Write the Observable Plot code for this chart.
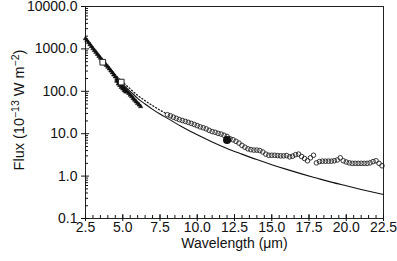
<!DOCTYPE html>
<html><head><meta charset="utf-8">
<script src="https://cdn.jsdelivr.net/npm/d3@7"></script>
<script src="https://cdn.jsdelivr.net/npm/@observablehq/plot@0.6"></script>
<style>body{margin:0;background:#fff}svg{display:block}</style>
</head><body><div id="chart"></div>
<script>
const FONT = "'Liberation Sans', Arial, Helvetica, sans-serif";

// Tick labels
const xMajorTicks = [2.5, 5, 7.5, 10, 12.5, 15, 17.5, 20, 22.5];
const xMinorTicks = d3.range(2.5, 22.51, 0.5);
const yMajorTicks = [0.1, 1, 10, 100, 1000, 10000];
const yMinorTicks = [0.1, 1, 10, 100, 1000].flatMap(d => [2,3,4,5,6,7,8,9].map(m => +(d * m).toPrecision(3)));

// Model curve (solid)
const modelWl   = [2.5, 3, 3.5, 4, 4.5, 5, 5.5, 6, 6.5, 7, 7.5, 8, 9, 10, 11, 12, 13, 14, 15, 16, 17, 18, 19, 20, 21, 22.5];
const modelFlux = [1750, 1020, 610, 380, 230, 148, 100, 68, 50, 37.5, 29, 23, 14.4, 9.4, 6.4, 4.5, 3.3, 2.45, 1.86, 1.44, 1.13, 0.9, 0.72, 0.59, 0.485, 0.368];

// Dotted curve
const dottedWl   = [2.5, 3, 3.5, 4, 4.5, 5, 5.5, 6, 6.5, 7, 7.5, 7.9];
const dottedFlux = [1750, 1030, 620, 390, 248, 165, 114, 80, 60, 46, 36, 30];

// Dense filled spectrum points (short wavelengths)
const bandWl   = [2.5, 2.6, 2.7, 2.8, 2.9, 3.0, 3.1, 3.2, 3.3, 3.4, 3.5, 3.6, 3.7, 3.8, 3.9, 4.0, 4.1, 4.2, 4.3, 4.4, 4.5, 4.6, 4.7, 4.8, 4.9, 5.0, 5.1, 5.2, 5.3, 5.4, 5.5, 5.6, 5.7, 5.8, 5.9, 6.0, 6.1, 6.2, 4.6, 4.7, 4.8, 4.9, 5.0, 5.1, 5.2];
const bandFlux = [1750, 1580, 1420, 1270, 1140, 1020, 920, 830, 750, 675, 610, 550, 495, 450, 410, 375, 340, 305, 275, 245, 220, 195, 172, 155, 140, 128, 117, 107, 98, 90, 82, 75, 68, 62, 57, 52, 48, 44, 175, 150, 138, 125, 115, 105, 97];

// Open squares
const squareWl   = [3.66, 4.9];
const squareFlux = [485, 165];

// Open circles (mid-IR spectrum)
const circleWl = [8.0, 8.2, 8.4, 8.6, 8.8, 9.0, 9.2, 9.4, 9.6, 9.8, 10.0, 10.2, 10.4, 10.6, 10.8, 11.0, 11.2, 11.4, 11.6, 11.8, 12.0, 12.2, 12.4, 12.6, 12.8, 13.0, 13.2, 13.4, 13.6, 13.8, 14.0, 14.2, 14.4, 14.6, 14.8, 15.0, 15.2, 15.4, 15.6, 15.8, 16.0, 16.2, 16.4, 16.6, 16.8, 17.0, 17.2, 17.4, 17.6, 17.8, 18.0, 18.2, 18.4, 18.6, 18.8, 19.0, 19.2, 19.4, 19.6, 19.8, 20.0, 20.2, 20.4, 20.6, 20.8, 21.0, 21.2, 21.4, 21.6, 21.8, 22.0, 22.2, 22.4];
const circleFlux = [28, 26.5, 24.5, 23, 21.5, 20.5, 19.5, 18.5, 17.5, 16.5, 15.5, 14.5, 13.8, 13.0, 12.0, 11.2, 10.8, 10.2, 9.8, 9.2, 8.6, 7.6, 7.2, 6.6, 6.0, 5.3, 4.8, 4.4, 4.2, 4.1, 4.1, 4.0, 3.7, 3.3, 3.1, 3.1, 3.1, 3.05, 3.0, 3.0, 3.05, 2.85, 2.95, 3.2, 3.3, 2.9, 2.6, 2.3, 2.7, 3.1, 2.05, 2.2, 2.25, 2.25, 2.25, 2.25, 2.3, 2.4, 2.7, 2.3, 2.15, 2.05, 2.0, 2.0, 2.0, 2.0, 2.0, 2.0, 2.05, 2.2, 2.3, 2.0, 1.75];

// Filled circle
const filledWl   = [12.0];
const filledFlux = [7.1];

const pts = (xs, ys) => xs.map((x, i) => ({x, y: ys[i]}));

const plot = Plot.plot({
  width: 397,
  height: 261,
  marginLeft: 85,
  marginRight: 14,
  marginTop: 6,
  marginBottom: 43,
  style: {fontFamily: FONT, fontSize: "14px", color: "#111", background: "#fff"},
  x: {type: "linear", domain: [2.5, 22.5], label: null},
  y: {type: "log", domain: [0.1, 10000], label: null},
  marks: [
    Plot.frame({stroke: "#222", strokeWidth: 1}),
    Plot.axisY(yMajorTicks, {tickSize: 4, tickPadding: 4, tickFormat: d => d.toFixed(1), fontSize: 14, label: null}),
    Plot.axisY(yMajorTicks, {tickSize: -4, text: null, label: null}),
    Plot.axisY(yMinorTicks, {tickSize: -3, text: null, label: null}),
    Plot.axisX(xMajorTicks, {tickSize: 3, tickPadding: 1, tickFormat: d => d.toFixed(1), fontSize: 14, label: null}),
    Plot.axisX(xMajorTicks, {tickSize: -4, text: null, label: null}),
    Plot.axisX(xMinorTicks, {tickSize: -3, text: null, label: null}),
    Plot.line(pts(modelWl, modelFlux), {x: "x", y: "y", curve: "monotone-x", stroke: "#111", strokeWidth: 1.1}),
    Plot.line(pts(dottedWl, dottedFlux), {x: "x", y: "y", curve: "monotone-x", stroke: "#111", strokeWidth: 1.3, strokeDasharray: "1,2.3"}),
    Plot.dot(pts(bandWl, bandFlux), {x: "x", y: "y", symbol: "triangle", r: 1.6, fill: "#111", stroke: "#111", strokeWidth: 0.6}),
    Plot.dot(pts(squareWl, squareFlux), {x: "x", y: "y", symbol: "square", r: 3.2, fill: "white", stroke: "#222", strokeWidth: 1}),
    Plot.dot(pts(circleWl, circleFlux), {x: "x", y: "y", r: 2.3, fill: "none", stroke: "#222", strokeWidth: 0.9}),
    Plot.dot(pts(filledWl, filledFlux), {x: "x", y: "y", r: 3.3, fill: "#111", stroke: "#111"}),
    Plot.text(["Wavelength (\u03bcm)"], {frameAnchor: "bottom", lineAnchor: "top", dy: 20, fontSize: 14, fill: "#111"})
  ]
});

const svg = d3.select(plot);
const t = svg.append("text")
  .attr("transform", "translate(24,110) rotate(-90)")
  .attr("text-anchor", "middle")
  .attr("font-family", FONT)
  .attr("font-size", 14.5)
  .attr("fill", "#111");
t.append("tspan").text("Flux (10");
t.append("tspan").attr("dy", -5.5).attr("font-size", 10.5).text("\u221213");
t.append("tspan").attr("dy", 5.5).text(" W m");
t.append("tspan").attr("dy", -5.5).attr("font-size", 10.5).text("\u22122");
t.append("tspan").attr("dy", 5.5).text(")");

document.getElementById("chart").appendChild(plot);
</script>
</body></html>
